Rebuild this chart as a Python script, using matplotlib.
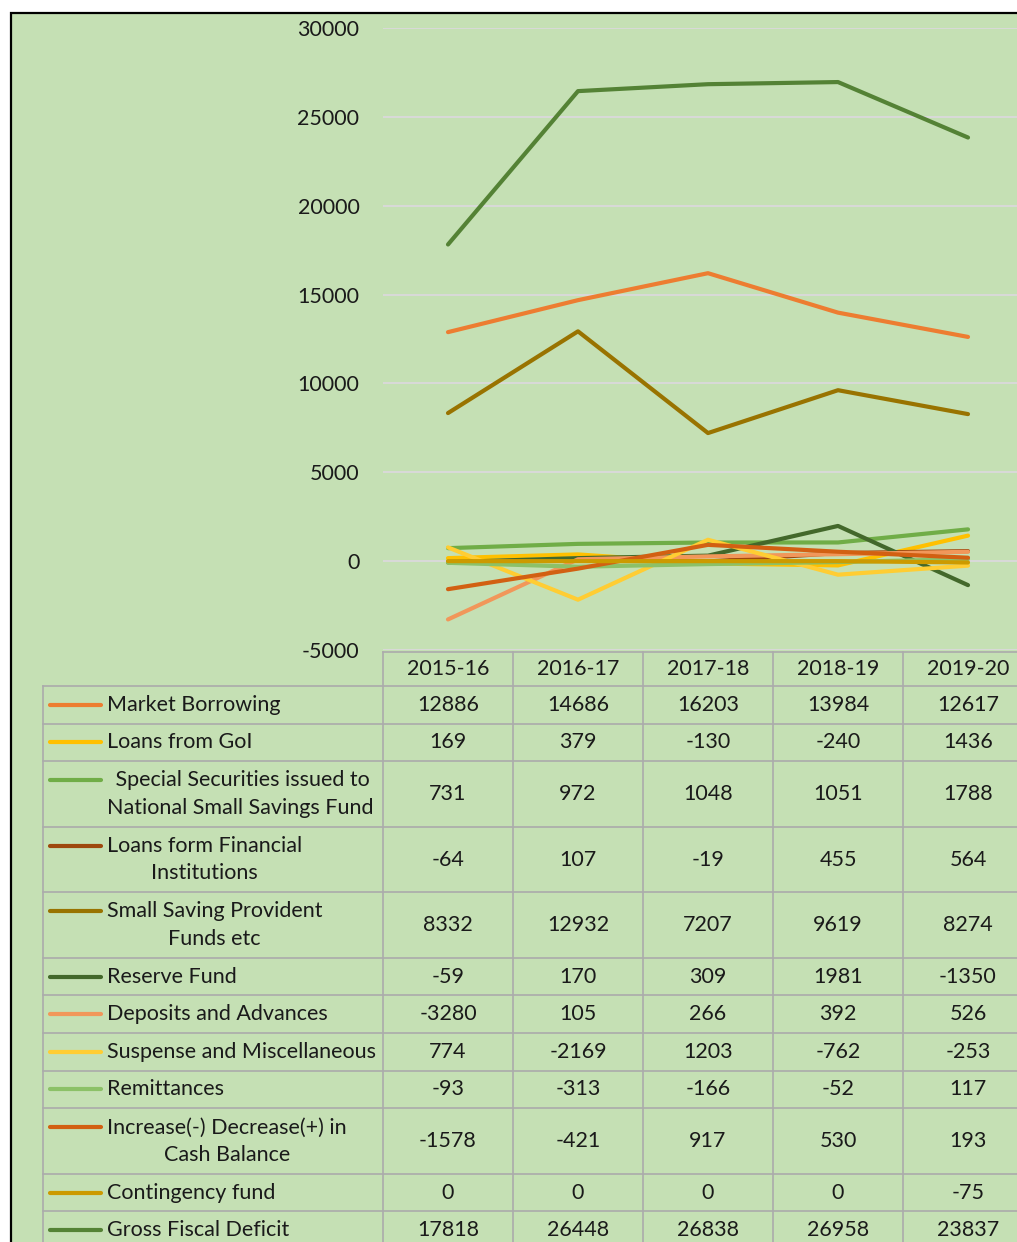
import matplotlib.pyplot as plt
import matplotlib.transforms as mtransforms
from matplotlib.patches import Rectangle

plt.rcParams['font.family'] = ['Lato', 'DejaVu Sans']
plt.rcParams['axes.unicode_minus'] = False

W, H = 1017, 1242

years = ["2015-16", "2016-17", "2017-18", "2018-19", "2019-20"]

names = [
    "Market Borrowing",
    "Loans from GoI",
    " Special Securities issued to\nNational Small Savings Fund",
    "Loans form Financial\nInstitutions",
    "Small Saving Provident\nFunds etc",
    "Reserve Fund",
    "Deposits and Advances",
    "Suspense and Miscellaneous",
    "Remittances",
    "Increase(-) Decrease(+) in\nCash Balance",
    "Contingency fund",
    "Gross Fiscal Deficit",
]

market_borrowing = [12886, 14686, 16203, 13984, 12617]
loans_goi = [169, 379, -130, -240, 1436]
special_securities = [731, 972, 1048, 1051, 1788]
loans_fin_inst = [-64, 107, -19, 455, 564]
small_saving = [8332, 12932, 7207, 9619, 8274]
reserve_fund = [-59, 170, 309, 1981, -1350]
deposits = [-3280, 105, 266, 392, 526]
suspense = [774, -2169, 1203, -762, -253]
remittances = [-93, -313, -166, -52, 117]
cash_balance = [-1578, -421, 917, 530, 193]
contingency = [0, 0, 0, 0, -75]
gross_deficit = [17818, 26448, 26838, 26958, 23837]

values = [market_borrowing, loans_goi, special_securities, loans_fin_inst,
          small_saving, reserve_fund, deposits, suspense, remittances,
          cash_balance, contingency, gross_deficit]

colors = ["#ED7D31", "#FFC000", "#70AD47", "#9E480E", "#997300", "#43682B",
          "#F1975A", "#FFCD33", "#8CC168", "#D26012", "#CC9A00", "#548235"]

fs = 15.5
lw = 3.0
grid_c = "#ABABAB"

fig = plt.figure(figsize=(W / 100, H / 100), dpi=100)

# background / frame in pixel coords
bg = fig.add_axes([0, 0, 1, 1])
bg.set_xlim(0, W)
bg.set_ylim(H, 0)
bg.axis("off")
bg.add_patch(Rectangle((11, 13), 1200, 1400, facecolor="#C5E0B4",
                       edgecolor="black", lw=1.6))

# chart area
ax = fig.add_axes([383 / W, 1 - 650 / H, 650 / W, 622 / H])
ax.set_facecolor("none")
ax.set_xlim(-0.5, len(years) - 0.5)
ax.set_ylim(-5000, 30000)
ax.set_yticks(range(-5000, 30001, 5000))
ax.set_xticks([])
ax.grid(axis="y", color="#D9D9D9", lw=1.4)
ax.set_axisbelow(True)
ax.tick_params(axis="y", length=0, pad=17, labelsize=fs, labelcolor="#1a1a1a")
for s in ax.spines.values():
    s.set_visible(False)

for v, c in zip(values, colors):
    ax.plot(range(len(years)), v, color=c, lw=lw, solid_capstyle="round",
            solid_joinstyle="round")

# data table
tr = mtransforms.blended_transform_factory(ax.transData, bg.transData)
head_top, head_bot = 652, 686
h1, h2 = 37.6, 65.55
tab_left, lab_right = 43, 383

rows = []
y = head_bot
for n in names:
    h = h2 if "\n" in n else h1
    rows.append((y, y + h))
    y += h
bottom = y

bg.plot([lab_right, W + 50], [head_top, head_top], color=grid_c, lw=1.2)
for (t, b) in rows:
    bg.plot([tab_left, W + 50], [t, t], color=grid_c, lw=1.2)
bg.plot([tab_left, tab_left], [head_bot, bottom], color=grid_c, lw=1.2)
for i in range(len(years) + 1):
    bg.plot([i - 0.5, i - 0.5], [head_top, bottom], color=grid_c, lw=1.2,
            transform=tr)

for i, yr in enumerate(years):
    bg.text(i, (head_top + head_bot) / 2, yr, transform=tr, ha="center",
            va="center", fontsize=fs, color="#1a1a1a")

for n, v, c, (t, b) in zip(names, values, colors, rows):
    mid = (t + b) / 2
    ky = mid - 14 if "\n" in n else mid
    bg.plot([50, 101], [ky, ky], color=c, lw=lw, solid_capstyle="round")
    bg.text(107, mid, n, ha="left", va="center", multialignment="center",
            fontsize=fs, color="#1a1a1a", linespacing=1.45)
    for i, val in enumerate(v):
        bg.text(i, mid, str(val), transform=tr, ha="center", va="center",
                fontsize=fs, color="#1a1a1a")

fig.savefig("out.png", dpi=100)
